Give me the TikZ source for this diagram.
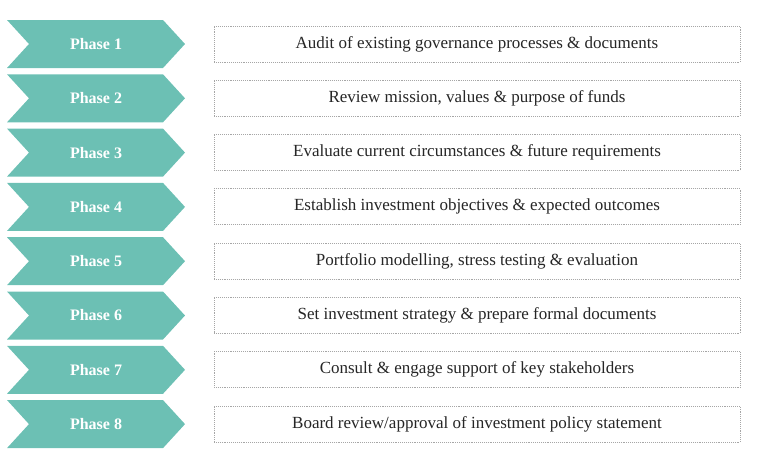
\documentclass[tikz,border=0pt]{standalone}
\usepackage{fontspec}
\setmainfont{Liberation Serif}
\usetikzlibrary{shapes.symbols, positioning}
\definecolor{phaseteal}{HTML}{6CC0B4}
\tikzset{x=1pt,y=-1pt,
  phase/.style={signal, signal from=west, signal to=east, signal pointer angle=95,
    fill=phaseteal, draw=none, text=white, font=\bfseries\fontsize{16}{18}\selectfont,
    minimum width=178pt, minimum height=48pt, inner sep=0pt},
  taskbox/.style={draw=gray!70, densely dotted, line width=0.9pt, fill=white,
    minimum width=526pt, minimum height=36pt, font=\fontsize{17}{19}\selectfont, text=black!85}}

\begin{document}
\begin{tikzpicture}
\useasboundingbox (0,0) rectangle (767,472);
\foreach \i/\task in {1/{Audit of existing governance processes \& documents},
  2/{Review mission, values \& purpose of funds},
  3/{Evaluate current circumstances \& future requirements},
  4/{Establish investment objectives \& expected outcomes},
  5/{Portfolio modelling, stress testing \& evaluation},
  6/{Set investment strategy \& prepare formal documents},
  7/{Consult \& engage support of key stakeholders},
  8/{Board review{/}approval of investment policy statement}}{
  \node[phase] (p\i) at (96,{44+54.3*(\i-1)}) {Phase \i};
  \node[taskbox] (t\i) at (477,{44+54.3*(\i-1)}) {\task};
}
\end{tikzpicture}
\end{document}
